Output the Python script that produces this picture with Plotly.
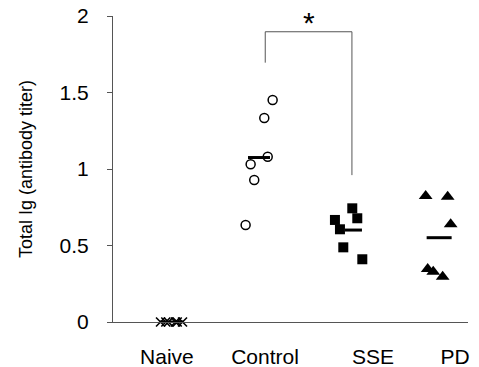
import plotly.graph_objects as go

# ---- data ----
groups = ["Naive", "Control", "SSE", "PD"]
group_label_pos = [0.943, 2.057, 3.284, 4.216]

naive_x = [0.87, 0.93, 0.96, 1.04, 1.06, 1.12]
naive_y = [0, 0, 0, 0, 0, 0]

control_x = [2.144, 2.049, 2.088, 1.894, 1.935, 1.837]
control_y = [1.451, 1.333, 1.080, 1.031, 0.928, 0.634]

sse_x = [3.049, 3.106, 2.852, 2.909, 2.947, 3.163]
sse_y = [0.743, 0.678, 0.667, 0.606, 0.488, 0.410]

pd_x = [3.883, 4.133, 4.167, 3.906, 3.969, 4.076]
pd_y = [0.824, 0.819, 0.639, 0.346, 0.329, 0.296]

mean_vals = [0.0, 1.075, 0.601, 0.551]
mean_x0 = [0.86, 1.864, 2.966, 3.894]
mean_x1 = [1.13, 2.114, 3.159, 4.178]

y_ticks = [0, 0.5, 1, 1.5, 2]
y_tick_text = ["0", "0.5", "1", "1.5", "2"]

bracket_x = [2.06, 2.06, 3.045, 3.045]
bracket_y = [1.695, 1.897, 1.897, 0.96]

FONT = "Liberation Sans, Arial, sans-serif"

fig = go.Figure()

# mean lines
for m, a, b in zip(mean_vals, mean_x0, mean_x1):
    fig.add_trace(go.Scatter(x=[a, b], y=[m, m], mode="lines",
                             line=dict(color="black", width=3),
                             showlegend=False, hoverinfo="skip", cliponaxis=False))

fig.add_trace(go.Scatter(x=naive_x, y=naive_y, mode="markers", cliponaxis=False,
                         marker=dict(symbol="x-thin", size=9,
                                     line=dict(color="black", width=1.6)),
                         showlegend=False))
fig.add_trace(go.Scatter(x=control_x, y=control_y, mode="markers",
                         marker=dict(symbol="circle-open", size=9, color="black",
                                     line=dict(color="black", width=1.5)),
                         showlegend=False))
fig.add_trace(go.Scatter(x=sse_x, y=sse_y, mode="markers",
                         marker=dict(symbol="square", size=10, color="black"),
                         showlegend=False))
fig.add_trace(go.Scatter(x=pd_x, y=pd_y, mode="markers",
                         marker=dict(symbol="triangle-up", size=12, color="black"),
                         showlegend=False))

# significance bracket
fig.add_trace(go.Scatter(x=bracket_x, y=bracket_y, mode="lines",
                         line=dict(color="#555555", width=1),
                         showlegend=False, hoverinfo="skip", cliponaxis=False))
fig.add_annotation(x=sum(bracket_x[1:3]) / 2, y=1.835, text="*", showarrow=False,
                   font=dict(family=FONT, size=30, color="black"),
                   yanchor="bottom", xanchor="center")

fig.update_layout(
    width=479, height=367,
    margin=dict(l=113, r=11, t=16, b=45, autoexpand=False),
    paper_bgcolor="white", plot_bgcolor="white",
    font=dict(family=FONT, color="black"),
)
fig.update_xaxes(range=[0.330, 4.364], showgrid=False, zeroline=False,
                 automargin=False,
                 showline=True, linecolor="#555555", linewidth=1,
                 tickmode="array", tickvals=group_label_pos, ticktext=groups,
                 ticks="", tickfont=dict(size=21, color="black"),
                 ticklabelstandoff=16)
fig.update_yaxes(range=[0, 2], showgrid=False, zeroline=False,
                 automargin=False,
                 showline=True, linecolor="#555555", linewidth=1,
                 tickmode="array", tickvals=y_ticks, ticktext=y_tick_text,
                 ticks="outside", ticklen=5, tickcolor="#555555",
                 tickfont=dict(size=21, color="black"), ticklabelstandoff=14,
                 title=dict(text="Total Ig (antibody titer)",
                            font=dict(size=18, color="black"), standoff=22))

fig.write_html("out.html", config={"displayModeBar": False},
               post_script="document.body.style.margin='0';document.body.style.padding='0';")
